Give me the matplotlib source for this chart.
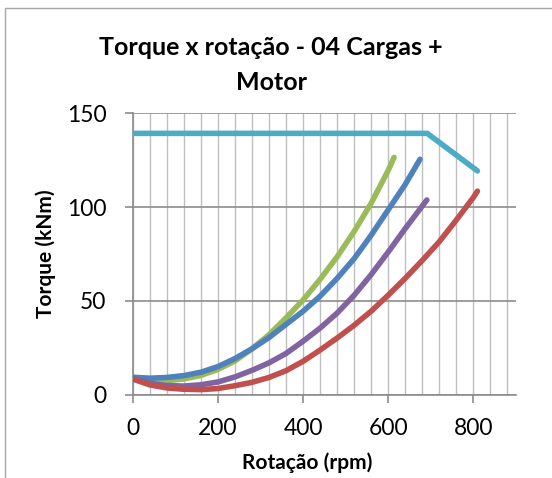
import matplotlib
matplotlib.use('Agg')
import matplotlib.pyplot as plt
from matplotlib.patches import Rectangle
from matplotlib.ticker import MultipleLocator

plt.rcParams['font.family'] = ['Lato', 'DejaVu Sans']

# Motor torque curve
motor_rpm = [0, 692, 810]
motor_torque = [139.3, 139.3, 119.3]

# Load curves
green_rpm = [0, 40, 80, 120, 160, 200, 240, 280, 320, 360, 400, 440, 480, 520, 560, 600, 614]
green_torque = [8.7, 7.8, 7.5, 8.4, 10.3, 13.5, 18.0, 24.5, 32.0, 41.0, 50.5, 61.5, 73.5, 87.0, 102.0, 119.5, 126.5]

blue_rpm = [0, 40, 80, 120, 160, 200, 240, 280, 320, 360, 400, 440, 480, 520, 560, 600, 640, 675]
blue_torque = [9.3, 8.8, 9.2, 10.2, 12.0, 15.0, 19.3, 24.5, 30.5, 37.5, 44.5, 52.5, 62.0, 72.5, 85.0, 98.5, 112.0, 125.5]

purple_rpm = [0, 40, 80, 120, 160, 200, 240, 280, 320, 360, 400, 440, 480, 520, 560, 600, 640, 691]
purple_torque = [8.6, 6.1, 4.9, 4.6, 5.3, 6.8, 9.5, 13.0, 17.0, 22.0, 28.5, 35.5, 43.5, 53.0, 64.0, 76.0, 88.5, 103.8]

red_rpm = [0, 40, 80, 120, 160, 200, 240, 280, 320, 360, 400, 440, 480, 520, 560, 600, 640, 680, 720, 760, 800, 810]
red_torque = [8.3, 5.2, 3.6, 2.9, 2.7, 3.3, 4.8, 6.6, 9.2, 12.8, 17.8, 23.8, 30.2, 37.0, 44.5, 53.0, 62.0, 71.5, 81.5, 93.0, 105.0, 108.5]

series = [
    (motor_rpm, motor_torque, '#4BACC6'),
    (green_rpm, green_torque, '#9BBB59'),
    (blue_rpm, blue_torque, '#4F81BD'),
    (purple_rpm, purple_torque, '#8064A2'),
    (red_rpm, red_torque, '#C0504D'),
]

x_ticks = [0, 200, 400, 600, 800]
y_ticks = [0, 50, 100, 150]

W, H = 552, 478
fig = plt.figure(figsize=(W / 100, H / 100), dpi=100)
fig.patch.set_facecolor('white')

# Chart frame (only left and top edges fall inside the picture)
fig.patches.append(Rectangle((5.5 / W, -0.2), 1.2, 1.2 - 7.5 / H, transform=fig.transFigure,
                             facecolor='none', edgecolor='#A6A6A6', linewidth=1.0))

ax = fig.add_axes([133 / W, 1 - 394.7 / H, (515.7 - 133) / W, (394.7 - 113.3) / H])

for x, y, color in series:
    ax.plot(x, y, color=color, linewidth=4.0, solid_capstyle='round', solid_joinstyle='round', zorder=3)

ax.set_xlim(0, 900)
ax.set_ylim(0, 150)
ax.set_xticks(x_ticks)
ax.set_yticks(y_ticks)
ax.xaxis.set_minor_locator(MultipleLocator(40))

ax.grid(axis='x', which='both', color='#BFBFBF', linewidth=1.0, zorder=0)
ax.grid(axis='y', which='major', color='#8C8C8C', linewidth=1.2, zorder=0)
ax.set_axisbelow(True)

for side in ['top', 'right']:
    ax.spines[side].set_visible(False)
for side in ['left', 'bottom']:
    ax.spines[side].set_color('#8C8C8C')
    ax.spines[side].set_linewidth(1.2)

ax.tick_params(which='major', direction='out', length=6, width=1.2, color='#8C8C8C',
               labelsize=16.5, pad=11)
ax.tick_params(axis='y', pad=13)
ax.tick_params(which='minor', length=0)

fig.text(271 / W, 1 - 65 / H, 'Torque x rotação - 04 Cargas +\nMotor', ha='center', va='center',
         fontsize=18, fontweight='bold', linespacing=1.65)
fig.text(307 / W, 1 - 463 / H, 'Rotação (rpm)', ha='center', va='center',
         fontsize=15, fontweight='bold')
fig.text(46 / W, 1 - 253.5 / H, 'Torque (kNm)', ha='center', va='center', rotation=90,
         fontsize=15, fontweight='bold')

plt.savefig('out.png', dpi=100, facecolor='white')
